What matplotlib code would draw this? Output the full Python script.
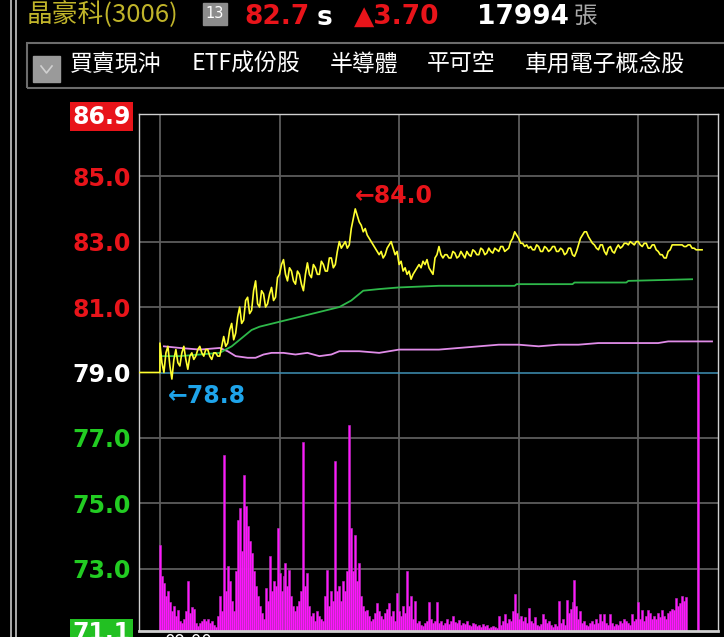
import numpy as np
import matplotlib
matplotlib.use("Agg")
from matplotlib import pyplot as plt
from matplotlib.lines import Line2D
from matplotlib.patches import Rectangle

plt.rcParams['font.family'] = ['DejaVu Sans', 'Noto Sans CJK TC']

W, H = 724, 637

# quote header
stock_name = '晶豪科(3006)'
last_price = '82.7'
change = '▲3.70'
total_vol = '17994'
tags = ['買賣現沖', 'ETF成份股', '半導體', '平可空', '車用電子概念股']

prev_close = 79.0
y_ticks = [86.9, 85.0, 83.0, 81.0, 79.0, 77.0, 75.0, 73.0, 71.1]
y_tick_colors = ['white', '#e8141a', '#e8141a', '#e8141a', 'white',
                 '#22cc22', '#22cc22', '#22cc22', 'white']

# one value per minute after 09:00
price = [79.9, 79.3, 79.0, 79.6, 79.8, 79.2, 78.8, 79.4, 79.7, 79.3,
         79.2, 79.6, 79.8, 79.4, 79.1, 79.5, 79.6, 79.4, 79.5, 79.7,
         79.8, 79.6, 79.5, 79.7, 79.7, 79.5, 79.4, 79.6, 79.6, 79.5,
         79.5, 79.8, 80.1, 79.8, 79.9, 80.3, 80.5, 80.0, 80.2, 80.7,
         81.0, 80.5, 80.6, 81.2, 81.3, 80.8, 80.9, 81.5, 81.8, 81.1,
         81.0, 81.5, 81.4, 81.0, 81.1, 81.4, 81.6, 81.2, 81.3, 81.9,
         82.0, 82.3, 82.45, 82.0, 81.8, 82.2, 82.1, 81.8, 81.7, 82.1,
         82.0, 81.7, 81.5, 82.0, 82.35, 82.0, 81.9, 82.3, 82.2, 82.0,
         82.0, 82.4, 82.3, 82.1, 82.1, 82.5, 82.5, 82.2, 82.3, 82.7,
         83.0, 82.8, 82.9, 83.0, 82.8, 82.9, 83.4, 83.7, 84.0, 83.8,
         83.6, 83.5, 83.3, 83.4, 83.2, 83.1, 83.0, 82.9, 82.8, 82.7,
         82.6, 82.7, 82.5, 82.6, 82.8, 82.9, 83.0, 82.8, 82.6, 82.7,
         82.3, 82.4, 82.1, 82.2, 82.0, 82.1, 81.85, 82.0, 82.1, 82.2,
         82.3, 82.2, 82.4, 82.3, 82.45, 82.2, 82.1, 82.0, 82.5, 82.6,
         82.85, 82.6, 82.5, 82.6, 82.6, 82.5, 82.5, 82.7, 82.65, 82.5,
         82.55, 82.7, 82.6, 82.5, 82.7, 82.6, 82.55, 82.75, 82.7, 82.6,
         82.6, 82.8, 82.75, 82.6, 82.65, 82.8, 82.7, 82.65, 82.8, 82.75,
         82.7, 82.85, 82.85, 82.7, 82.75, 82.8, 83.0, 83.1, 83.3, 83.2,
         83.1, 82.95, 82.95, 82.85, 82.9, 82.8, 82.85, 82.75, 82.75, 82.9,
         82.85, 82.7, 82.7, 82.85, 82.8, 82.7, 82.75, 82.85, 82.85, 82.7,
         82.7, 82.8, 82.75, 82.6, 82.65, 82.8, 82.8, 82.6, 82.55, 82.7,
         82.9, 83.1, 83.2, 83.3, 83.3, 83.15, 83.05, 82.95, 82.9, 82.8,
         82.75, 82.9, 82.9, 82.7, 82.6, 82.8, 82.85, 82.7, 82.65, 82.8,
         82.9, 82.8, 82.85, 82.95, 82.95, 82.9, 83.0, 82.95, 82.9, 83.0,
         83.0, 82.9, 82.85, 82.95, 82.95, 82.8, 82.8, 82.9, 82.9, 82.75,
         82.7, 82.6, 82.6, 82.5, 82.5, 82.7, 82.75, 82.9, 82.9, 82.9,
         82.9, 82.9, 82.9, 82.85, 82.85, 82.9, 82.9, 82.8, 82.8, 82.75,
         82.75, 82.75, 82.75]
price_t = list(range(len(price)))

avg_t = [0, 10, 20, 30, 36, 42, 46, 50, 60, 70, 80, 90, 96, 102, 110,
         120, 140, 178, 179, 207, 208, 234, 235, 267]
avg_price = [79.5, 79.5, 79.55, 79.6, 79.8, 80.1, 80.3, 80.4, 80.55, 80.7,
             80.85, 81.0, 81.2, 81.5, 81.55, 81.6, 81.65, 81.65, 81.7, 81.7,
             81.75, 81.75, 81.8, 81.85]

ref_t = [2, 10, 20, 30, 34, 38, 44, 48, 52, 56, 62, 68, 74, 80, 86, 90,
         100, 110, 120, 130, 140, 150, 160, 170, 180, 190, 200, 210, 220,
         230, 240, 250, 255, 277]
ref_price = [79.8, 79.75, 79.7, 79.75, 79.65, 79.5, 79.45, 79.45, 79.55, 79.6,
             79.6, 79.55, 79.6, 79.5, 79.55, 79.65, 79.65, 79.6, 79.7, 79.7,
             79.7, 79.75, 79.8, 79.85, 79.85, 79.8, 79.85, 79.85, 79.9, 79.9,
             79.9, 79.9, 79.95, 79.95]

vol = [86, 55, 48, 35, 40, 29, 20, 25, 15, 21,
       10, 8, 12, 20, 50, 18, 24, 22, 8, 5,
       8, 10, 12, 10, 12, 8, 10, 6, 4, 15,
       35, 20, 176, 40, 65, 50, 30, 20, 60, 111,
       123, 80, 156, 125, 105, 90, 78, 60, 45, 35,
       25, 18, 12, 43, 30, 75, 40, 50, 45, 103,
       58, 40, 55, 68, 45, 61, 35, 25, 20, 25,
       30, 40, 189, 45, 58, 25, 15, 18, 10, 20,
       15, 12, 10, 35, 61, 25, 40, 30, 170, 40,
       45, 30, 50, 40, 60, 206, 103, 60, 96, 50,
       68, 35, 25, 20, 21, 15, 10, 12, 18, 28,
       20, 15, 12, 18, 22, 28, 15, 20, 10, 38,
       20, 15, 25, 18, 60, 25, 35, 12, 30, 8,
       10, 6, 5, 8, 10, 29, 12, 8, 10, 29,
       8, 10, 6, 8, 12, 7, 10, 15, 9, 8,
       11, 6, 8, 7, 10, 6, 5, 8, 7, 5,
       6, 4, 7, 5, 6, 3, 4, 5, 4, 3,
       15, 6, 10, 17, 8, 12, 10, 20, 37, 18,
       12, 15, 10, 14, 8, 23, 10, 8, 14, 6,
       5, 7, 17, 12, 8, 10, 6, 4, 7, 5,
       30, 8, 12, 6, 31, 18, 22, 29, 51, 25,
       12, 20, 8, 10, 6, 5, 8, 10, 7, 12,
       8, 17, 10, 17, 8, 6, 17, 8, 5, 7,
       6, 10, 8, 12, 10, 8, 6, 17, 10, 12,
       29, 12, 21, 10, 15, 21, 18, 12, 15, 12,
       18, 14, 21, 15, 12, 18, 20, 22, 21, 33,
       25, 28, 35, 30, 34, 0, 0, 0, 0, 0,
       256]
vol_t = list(range(len(vol)))

hour_lines = [0, 60, 120, 180, 240, 270]
x_left, x_right = -10.5, 280


def fx(px):
    return px / W


def fy(py):
    return 1 - py / H


fig = plt.figure(figsize=(W / 100, H / 100), dpi=100, facecolor='black')

# --- frame lines on the far left
for xx in (10.5, 15.5):
    fig.add_artist(Line2D([fx(xx), fx(xx)], [0, 1], color='#c8c8c8', lw=1.2))

# --- header row
fig.text(fx(27), fy(15), stock_name, color='#c0b42a', fontsize=18.5,
         family=['Noto Sans CJK TC'], va='center', ha='left')
fig.add_artist(Rectangle((fx(203), fy(25)), fx(24), 22 / H, color='#8c8c8c'))
fig.text(fx(215), fy(14), '13', color='white', fontsize=10.5, ha='center', va='center')
fig.text(fx(244), fy(17), last_price, color='#e8141a', fontsize=19,
         fontweight='bold', va='center', ha='left')
fig.text(fx(317), fy(18), 's', color='white', fontsize=19,
         fontweight='bold', va='center', ha='left')
fig.text(fx(354), fy(17), change, color='#e8141a', fontsize=19,
         fontweight='bold', va='center', ha='left')
fig.text(fx(477), fy(17), total_vol, color='white', fontsize=19,
         fontweight='bold', va='center', ha='left')
fig.text(fx(574), fy(16), '張', color='#a8a8a8', fontsize=17,
         family=['Noto Sans CJK TC'], va='center', ha='left')

# --- tag row
fig.add_artist(Rectangle((fx(27), fy(88)), fx(724), 45 / H, fill=False,
                         edgecolor='#6c6c6c', lw=1.5))
fig.add_artist(Rectangle((fx(33), fy(82)), fx(27), 26 / H, color='#9a9a9a'))
fig.add_artist(Line2D([fx(41), fx(46.5), fx(52)], [fy(66), fy(73), fy(66)],
                      color='#d0d0d0', lw=1.2))
tag_x = [70, 192, 330, 427, 525]
for tx, tag in zip(tag_x, tags):
    fig.text(fx(tx), fy(64), tag, color='white', fontsize=16.5,
             family=['Noto Sans CJK TC'], va='center', ha='left')

# --- price / volume panel
ax = fig.add_axes([fx(139), 1 - 631 / H, fx(718 - 139), (631 - 114) / H])
ax.set_facecolor('black')
ax2 = ax.twinx()
ax.set_zorder(ax2.get_zorder() + 1)
ax.patch.set_visible(False)
ax2.set_facecolor('black')

# grid sits under the volume bars
for yv in y_ticks[1:-1]:
    if yv != prev_close:
        ax2.plot([0, 1], [yv, yv], transform=ax.get_yaxis_transform(),
                 color='#5c5c5c', lw=1.3, zorder=0)
for xv in hour_lines:
    ax2.axvline(xv, color='#5c5c5c', lw=1.3, zorder=0)

ax2.bar(vol_t, vol, width=1.0, color='#ff14ff', edgecolor='#c030c0', lw=0.4, zorder=2)
ax2.set_ylim(0, 517)
ax2.set_yticks([])

ax.plot([0, x_right], [prev_close, prev_close], color='#3a86a8', lw=1.2, zorder=1)
ax.plot(ref_t, ref_price, color='#e08ce8', lw=1.3, zorder=2)
ax.plot(avg_t, avg_price, color='#2eb84a', lw=1.3, zorder=3)
ax.plot([x_left, 0] + price_t, [prev_close, prev_close] + price,
        color='#ffff30', lw=1.2, zorder=4)

# high / low tags
i_hi = int(np.argmax(price))
i_lo = int(np.argmin(price))
ax.annotate('←' + f'{price[i_hi]:.1f}', xy=(price_t[i_hi], price[i_hi]),
            xytext=(0, 9), textcoords='offset points', color='#e8141a',
            fontsize=17, fontweight='bold', ha='left', va='center')
ax.annotate('←' + f'{price[i_lo]:.1f}', xy=(price_t[i_lo], price[i_lo]),
            xytext=(-3, -12), textcoords='offset points', color='#1ea4ea',
            fontsize=17, fontweight='bold', ha='left', va='center')

ax.set_xlim(x_left, x_right)
ax.set_ylim(71.1, 86.9)
ax.set_xticks([])
ax.set_yticks(y_ticks)
ax.set_yticklabels([f'{v:.1f}' for v in y_ticks], fontsize=17, fontweight='bold')
ax.tick_params(axis='y', length=0, pad=6)
for lab, c in zip(ax.get_yticklabels(), y_tick_colors):
    lab.set_color(c)
ax.get_yticklabels()[0].set_bbox(dict(facecolor='#e8141a', edgecolor='none', pad=1.5))
ax.get_yticklabels()[-1].set_bbox(dict(facecolor='#22c022', edgecolor='none', pad=1.5))

for side in ['left', 'top', 'right']:
    ax.spines[side].set_color('#d0d0d0')
    ax.spines[side].set_linewidth(1.0)
ax.spines['bottom'].set_color('#d0d0d0')
ax.spines['bottom'].set_linewidth(2.0)
for side in ax2.spines:
    ax2.spines[side].set_visible(False)

# clipped time label under the panel
fig.text(fx(165), fy(633), '09:00', color='white', fontsize=12, va='top', ha='left')

fig.savefig('out.png', dpi=100, facecolor='black')
